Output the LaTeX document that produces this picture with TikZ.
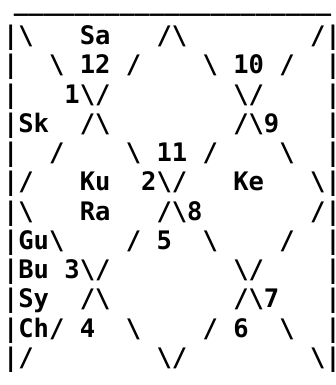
\documentclass[tikz,border=0pt]{standalone}
\usepackage{fontspec}
\newfontfamily\chartfont{DejaVu Sans Mono}
\newcommand\BS{\textbackslash}
\newcommand\EndBar{\rlap{|}}
\begin{document}
\begin{tikzpicture}[x=1pt,y=1pt,
  chartline/.style={anchor=base west, inner sep=0pt, outer sep=0pt,
    font=\chartfont\bfseries\fontsize{25.5}{29}\selectfont}]
\fill[white] (0,0) rectangle (336,-385);
\useasboundingbox (0,0) rectangle (336,-385);
\node[chartline, anchor=base, font=\chartfont\bfseries\fontsize{25.1}{29}\selectfont] (r0) at (172.5,-10.5) {\smash{\_\_\_\_\_\_\_\_\_\_\_\_\_\_\_\_\_\_\_\_\_}};
\node[chartline] (r1) at (3,-44.5) {|\BS\ \ \ Sa\ \ \ /\BS\ \ \ \ \ \ \ \ /\EndBar};
\node[chartline] (r2) at (3,-73.75) {|\ \ \BS\ 12\ /\ \ \ \ \BS\ 10\ /\ \ \EndBar};
\node[chartline] (r3) at (3,-103) {|\ \ \ 1\BS/\ \ \ \ \ \ \ \ \BS/\ \ \ \ \EndBar};
\node[chartline] (r4) at (3,-132.25) {|Sk\ \ /\BS\ \ \ \ \ \ \ \ /\BS{}9\ \ \ \EndBar};
\node[chartline] (r5) at (3,-161.5) {|\ \ /\ \ \ \ \BS\ 11\ /\ \ \ \ \BS\ \ \EndBar};
\node[chartline] (r6) at (3,-190.75) {|/\ \ \ Ku\ \ 2\BS/\ \ \ Ke\ \ \ \BS\EndBar};
\node[chartline] (r7) at (3,-220) {|\BS\ \ \ Ra\ \ \ /\BS{}8\ \ \ \ \ \ \ /\EndBar};
\node[chartline] (r8) at (3,-249.25) {|Gu\BS\ \ \ \ /\ 5\ \ \BS\ \ \ \ /\ \ \EndBar};
\node[chartline] (r9) at (3,-278.5) {|Bu\ 3\BS/\ \ \ \ \ \ \ \ \BS/\ \ \ \ \EndBar};
\node[chartline] (r10) at (3,-307.75) {|Sy\ \ /\BS\ \ \ \ \ \ \ \ /\BS{}7\ \ \ \EndBar};
\node[chartline] (r11) at (3,-337) {|Ch/\ 4\ \ \BS\ \ \ \ /\ 6\ \ \BS\ \ \EndBar};
\node[chartline] (r12) at (3,-366.25) {|/\ \ \ \ \ \ \ \ \BS/\ \ \ \ \ \ \ \ \BS\EndBar};
\end{tikzpicture}
\end{document}
